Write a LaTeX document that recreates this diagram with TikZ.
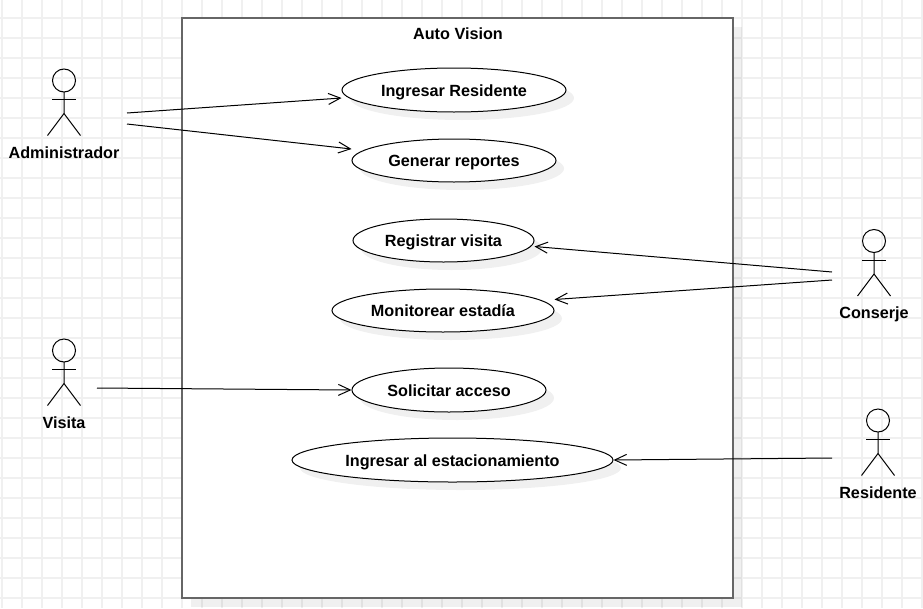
\documentclass[tikz,border=0pt]{standalone}
\usepackage{fontspec}
\setmainfont{Liberation Sans}
\usetikzlibrary{arrows.meta,shapes.geometric,shadows}
\definecolor{gridgray}{HTML}{F0F0F0}
\definecolor{boxgray}{HTML}{666666}
\newcommand{\labelfont}{\fontsize{16.2}{18}\selectfont\bfseries}
\newcommand{\actorman}[4]{%
  \draw[actorline] (#2,#3) circle (11.5);
  \draw[actorline] (#2,#3+11.5) -- (#2,#3+33) -- (#2-16.5,#3+55);
  \draw[actorline] (#2,#3+33) -- (#2+16.5,#3+55);
  \draw[actorline] (#2-12,#3+19) -- (#2+12,#3+19);
  \node[actorlabel] (#1) at (#2,#3+71.5) {#4};
}
\begin{document}
\begin{tikzpicture}[
    x=1pt,y=-1pt,
    gridline/.style={draw=gridgray,line width=1.5pt},
    system/.style={draw=boxgray,fill=white,line width=1.5pt,minimum width=551pt,minimum height=580pt,
      drop shadow={shadow xshift=9pt,shadow yshift=-9pt,fill=black,opacity=0.06}},
    usecase/.style={ellipse,draw=black,fill=white,line width=1pt,inner sep=0pt,font=\labelfont,
      text height=12pt,text depth=0pt,
      drop shadow={shadow xshift=8pt,shadow yshift=-8pt,fill=black,opacity=0.06}},
    actorline/.style={draw=black,line width=1pt},
    actorlabel/.style={font=\labelfont,inner sep=0pt,text height=12pt,text depth=0pt},
    arr/.style={-{Straight Barb[length=12pt,width=11pt]},line width=1pt}
]
\useasboundingbox (0,0) rectangle (923,608);
% grid
\foreach \gx in {2,22,...,922} \draw[gridline] (\gx,0) -- (\gx,608);
\foreach \gy in {18,38,...,598} \draw[gridline] (0,\gy) -- (923,\gy);
% system
\node[system] (sys) at (457.5,308) {};
\node[actorlabel] (title) at (458,33) {Auto Vision};
% use cases
\node[usecase,minimum width=224pt,minimum height=44pt] (residente) at (454,90) {Ingresar Residente};
\node[usecase,minimum width=204pt,minimum height=43pt] (reportes) at (454,160.5) {Generar reportes};
\node[usecase,minimum width=181pt,minimum height=43pt] (visita) at (443.5,240.5) {Registrar visita};
\node[usecase,minimum width=222pt,minimum height=43pt] (estadia) at (443,310.5) {Monitorear estadía};
\node[usecase,minimum width=194pt,minimum height=44pt] (acceso) at (449,390) {Solicitar acceso};
\node[usecase,minimum width=321pt,minimum height=44pt] (estacionamiento) at (452.5,460) {Ingresar al estacionamiento};
% actors
\actorman{admin}{64}{80.5}{Administrador}
\actorman{conserje}{874}{241}{Conserje}
\actorman{visitante}{64}{350.5}{Visita}
\actorman{resid}{878}{420.5}{Residente}
% free ends
\coordinate (a1) at (127,113);
\coordinate (a2) at (127,124);
\coordinate (c1) at (832,272);
\coordinate (c2) at (832,280);
\coordinate (v1) at (97,388);
\coordinate (r1) at (832,458);
\draw[arr] (a1) -- ([yshift=-8pt]residente.west);
\draw[arr] (a2) -- ([yshift=11.5pt]reportes.west);
\draw[arr] (c1) -- ([yshift=-6pt]visita.east);
\draw[arr] (c2) -- ([yshift=11pt]estadia.east);
\draw[arr] (v1) -- (acceso.west);
\draw[arr] (r1) -- (estacionamiento.east);
\end{tikzpicture}
\end{document}
